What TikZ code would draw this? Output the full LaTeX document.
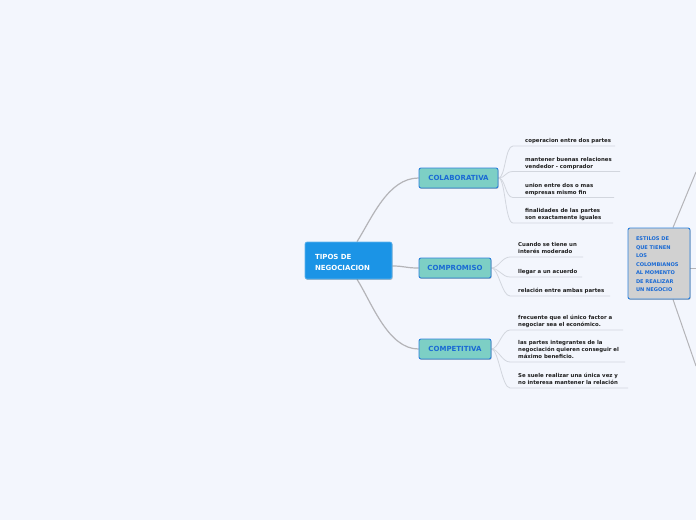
\documentclass[tikz,border=0pt]{standalone}
\usepackage{fontspec}
\setmainfont{DejaVu Sans}
\usetikzlibrary{calc,shadows}
\definecolor{bgc}{HTML}{F3F6FD}
\definecolor{rootfill}{HTML}{1B94E6}
\definecolor{kidfill}{HTML}{7DCFC5}
\definecolor{kidborder}{HTML}{2B7FDB}
\definecolor{kidtext}{HTML}{1A6AD4}
\definecolor{grayfill}{HTML}{D1D1D1}
\definecolor{mainline}{HTML}{B4B4B8}
\definecolor{leafcol}{HTML}{D2D6DE}
\definecolor{leaftextc}{HTML}{1E1E1E}
\pgfdeclarelayer{bgl}
\pgfdeclarelayer{conn}
\pgfsetlayers{bgl,conn,main}
\tikzset{
  boxshadow/.style={drop shadow={shadow xshift=0.6pt,shadow yshift=-0.9pt,opacity=0.25,fill=black}},
  rootbox/.style={rectangle,rounded corners=2pt,fill=rootfill,draw=rootfill!70!white,line width=0.6pt,
     text=white,font=\fontsize{7}{11}\selectfont\bfseries,align=left,text width=67pt,inner xsep=10pt,
     text height=9pt,minimum width=87pt,minimum height=37pt,boxshadow},
  kidbox/.style={rectangle,rounded corners=2pt,fill=kidfill,draw=kidborder,line width=0.9pt,
     text=kidtext,font=\fontsize{7}{8}\selectfont\bfseries,minimum height=20pt,inner xsep=0pt,boxshadow},
  graybox/.style={rectangle,rounded corners=2pt,fill=grayfill,draw=kidborder,line width=0.9pt,
     text=kidtext,font=\fontsize{5.1}{8.5}\selectfont\bfseries,align=left,text width=46pt,inner xsep=8pt,
     text height=5.8pt,minimum width=62pt,minimum height=71pt,boxshadow},
  leaftext/.style={anchor=south west,inner sep=0pt,text depth=0pt,align=left,text=leaftextc,
     font=\fontsize{5.4}{7}\selectfont\bfseries},
  leafline/.style={draw=leafcol,line width=0.8pt},
  mainconn/.style={draw=mainline,line width=1.2pt},
}
\newcommand\leafitem[8]{%
  \coordinate (#1s) at (#3,#4);
  \coordinate (#1e) at (#5,#4);
  \node[leaftext] (#1) at (#6,#4-3) {#8};
  \begin{pgfonlayer}{conn}
  \draw[leafline] (#2.east) .. controls ($(#2.east)+(7,0)$) and ($(#1s)+(-8,0)$) .. (#1s) -- (#1e);
  \end{pgfonlayer}
}
\begin{document}
\begin{tikzpicture}[x=1pt,y=-1pt]
\begin{pgfonlayer}{bgl}
\fill[bgc] (0,0) rectangle (696,520);
\end{pgfonlayer}
\useasboundingbox (0,0) rectangle (696,520);

\node[rootbox] (root) at (348.5,260.5) {TIPOS DE\\NEGOCIACION};
\node[kidbox,minimum width=79pt] (colab) at (458.5,178) {COLABORATIVA};
\node[kidbox,minimum width=72pt] (compro) at (455,268) {COMPROMISO};
\node[kidbox,minimum width=72pt] (compe) at (455,349) {COMPETITIVA};
\node[graybox] (estilos) at (659,263.5) {ESTILOS DE\\QUE TIENEN\\LOS\\COLOMBIANOS\\AL MOMENTO\\DE REALIZAR\\UN NEGOCIO};

\coordinate (etop) at (696,172);
\coordinate (emid) at (696,268);
\coordinate (ebot) at (696,366);

\begin{pgfonlayer}{conn}
% connectors from root
\draw[mainconn] (root.north -| 357,0) .. controls (372,218) and (388,178) .. (colab.west);
\draw[mainconn] (root.east |- 0,266) .. controls (405,266) and (405,268) .. (compro.west);
\draw[mainconn] (root.south -| 357,0) .. controls (372,303) and (388,349) .. (compe.west);
% estilos connectors
\draw[mainconn,line width=1pt] (estilos.north -| 673,0) -- (etop);
\draw[mainconn,line width=1pt] (estilos.east |- 0,268) -- (emid);
\draw[mainconn,line width=1pt] (estilos.south -| 673,0) -- (ebot);
\end{pgfonlayer}

% leaves: COLABORATIVA
\leafitem{ca}{colab}{513}{146}{615}{525}{1}{coperacion entre dos partes}
\leafitem{cb}{colab}{513}{171.5}{620}{525}{2}{mantener buenas relaciones\\vendedor - comprador}
\leafitem{cc}{colab}{513}{197.5}{614}{525}{2}{union entre dos o mas\\empresas mismo fin}
\leafitem{cd}{colab}{513}{223}{613}{525}{2}{finalidades de las partes\\son exactamente iguales}
% leaves: COMPROMISO
\leafitem{pa}{compro}{510}{257}{583}{518}{2}{Cuando se tiene un\\interés moderado}
\leafitem{pb}{compro}{510}{277}{582}{518}{1}{llegar a un acuerdo}
\leafitem{pc}{compro}{510}{296}{610}{518}{1}{relación entre ambas partes}
% leaves: COMPETITIVA
\leafitem{ta}{compe}{510}{330}{623}{518}{2}{frecuente que el único factor a\\negociar sea el económico.}
\leafitem{tb}{compe}{510}{362}{625}{518}{3}{las partes integrantes de la\\negociación quieren conseguir el\\máximo beneficio.}
\leafitem{tc}{compe}{510}{388}{628}{518}{2}{Se suele realizar una única vez y\\no interesa mantener la relación}
\end{tikzpicture}
\end{document}
